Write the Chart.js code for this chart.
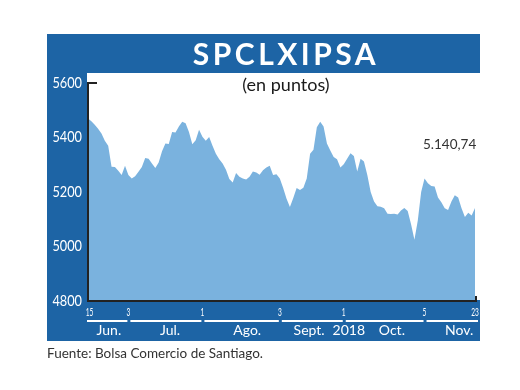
<!DOCTYPE html>
<html>
<head>
<meta charset="utf-8">
<script src="https://cdn.jsdelivr.net/npm/chart.js@4.4.0/dist/chart.umd.min.js"></script>
<style>
  html, body { margin: 0; padding: 0; background: #fff; }
  #wrap { position: relative; width: 520px; height: 390px; }
  #wrap canvas { position: absolute; left: 0; top: 0; }
  .txt { position: absolute; white-space: nowrap; font-family: Lato, "Open Sans", sans-serif; }
  #title { left: 186px; width: 200px; top: 35px; line-height: 36px; text-align: center;
           font-size: 30px; font-weight: 700; color: #fff; letter-spacing: 3.5px; }
  #sub { left: 186px; width: 200px; top: 73px; line-height: 22px; text-align: center;
         font-size: 18px; color: #1a1a1a; }
  #last { left: 423px; top: 136px; line-height: 16px; font-size: 13.5px; color: #333; }
  #src { left: 47px; top: 345px; line-height: 17px; font-size: 13.5px; color: #333; }
</style>
</head>
<body>
<div id="wrap">
  <canvas id="chart" width="520" height="390"></canvas>
  <div class="txt" id="title">SPCLXIPSA</div>
  <div class="txt" id="sub">(en puntos)</div>
  <div class="txt" id="last">5.140,74</div>
  <div class="txt" id="src">Fuente: Bolsa Comercio de Santiago.</div>
</div>
<script>
// ========== DATOS ==========
// cierres diarios del IPSA, 15 jun - 23 nov 2018 (índice de sesión)
const cierres = [
    5470, 5460, 5447, 5432, 5415, 5388, 5370, 5293, 5292, 5278,
    5262, 5296, 5262, 5250, 5258, 5274, 5292, 5325, 5322, 5305,
    5288, 5308, 5350, 5378, 5376, 5420, 5418, 5440, 5458, 5452,
    5420, 5375, 5390, 5428, 5403, 5388, 5402, 5370, 5340, 5320,
    5305, 5282, 5248, 5235, 5270, 5256, 5250, 5246, 5256, 5275,
    5272, 5263, 5280, 5290, 5296, 5262, 5265, 5250, 5215, 5175,
    5145, 5178, 5215, 5207, 5216, 5250, 5340, 5355, 5438, 5458,
    5440, 5378, 5352, 5328, 5320, 5290, 5302, 5322, 5342, 5332,
    5275, 5322, 5312, 5262, 5200, 5165, 5148, 5146, 5140, 5120,
    5119, 5120, 5117, 5132, 5141, 5130, 5082, 5025, 5095, 5200,
    5250, 5232, 5222, 5220, 5180, 5162, 5140, 5134, 5165, 5188,
    5180, 5140, 5108, 5124, 5114, 5141
];
const yTicks = [4800, 5000, 5200, 5400, 5600];
const diaIdx = [0, 12, 34, 57, 76, 100, 115];
const diaLabels = ["15", "3", "1", "3", "1", "5", "23"];
const mesLabels = ["Jun.", "Jul.", "Ago.", "Sept.", "2018", "Oct.", "Nov."];
const mesIdx = [6.2, 24.4, 47.3, 65.7, 77.5, 90.3, 110.3];

const AZUL = "#1d64a5";
const CELESTE = "#7ab2de";

// ========== MARCO Y EJES ==========
const marco = {
    id: "marco",
    beforeDraw(chart) {
        const c = chart.ctx;
        c.save();
        c.fillStyle = AZUL;
        c.fillRect(47, 34, 433, 307);
        c.fillStyle = "#fff";
        c.fillRect(87, 73, 393, 227);
        c.restore();
    },
    afterDatasetsDraw(chart) {
        const c = chart.ctx;
        const a = chart.chartArea;
        const x = chart.scales.x;
        const y = chart.scales.y;
        c.save();
        // ejes
        c.strokeStyle = "#222";
        c.lineWidth = 2;
        c.beginPath();
        c.moveTo(a.left + 9, a.top);
        c.lineTo(a.left, a.top);
        c.lineTo(a.left, a.bottom);
        c.lineTo(a.right + 1, a.bottom);
        c.lineTo(a.right + 1, a.bottom - 5);
        c.stroke();

        // etiquetas eje y
        c.fillStyle = "#fff";
        c.font = "15px Lato, 'Open Sans', sans-serif";
        c.textAlign = "right";
        c.textBaseline = "middle";
        yTicks.forEach((v) => {
            c.save();
            c.translate(82, y.getPixelForValue(v));
            c.scale(0.85, 1);
            c.fillText(String(v), 0, 0);
            c.restore();
        });

        // días
        c.font = "12px Lato, 'Open Sans', sans-serif";
        c.textAlign = "center";
        diaIdx.forEach((d, i) => {
            c.save();
            c.translate(x.getPixelForValue(d) + (i === 0 ? 1.5 : 0), 312.5);
            c.scale(0.55, 1);
            c.fillText(diaLabels[i], 0, 0);
            c.restore();
        });

        // líneas de meses
        c.strokeStyle = "#fff";
        c.lineWidth = 2;
        for (let i = 0; i < diaIdx.length - 1; i++) {
            const x0 = x.getPixelForValue(diaIdx[i]) + (i === 0 ? -1 : 2);
            const x1 = x.getPixelForValue(diaIdx[i + 1]) + (i === diaIdx.length - 2 ? 3 : -1);
            c.beginPath();
            c.moveTo(x0, 321);
            c.lineTo(x1, 321);
            c.stroke();
        }

        // meses
        c.font = "14px Lato, 'Open Sans', sans-serif";
        mesLabels.forEach((m, i) => {
            c.fillText(m, x.getPixelForValue(mesIdx[i]), 330.5);
        });
        c.restore();
    },
};

// ========== GRÁFICO ==========
const ctx = document.getElementById("chart").getContext("2d");
new Chart(ctx, {
    type: "line",
    data: {
        datasets: [{
            data: cierres.map((v, i) => ({ x: i, y: v })),
            backgroundColor: CELESTE,
            borderWidth: 0,
            pointRadius: 0,
            fill: "start",
            tension: 0,
        }],
    },
    options: {
        responsive: false,
        animation: false,
        devicePixelRatio: 1,
        layout: { padding: { left: 88, right: 45, top: 83, bottom: 89 } },
        plugins: { legend: { display: false }, tooltip: { enabled: false } },
        scales: {
            x: { type: "linear", min: 0, max: cierres.length - 1, display: false },
            y: { min: 4800, max: 5600, display: false },
        },
    },
    plugins: [marco],
});
</script>
</body>
</html>
